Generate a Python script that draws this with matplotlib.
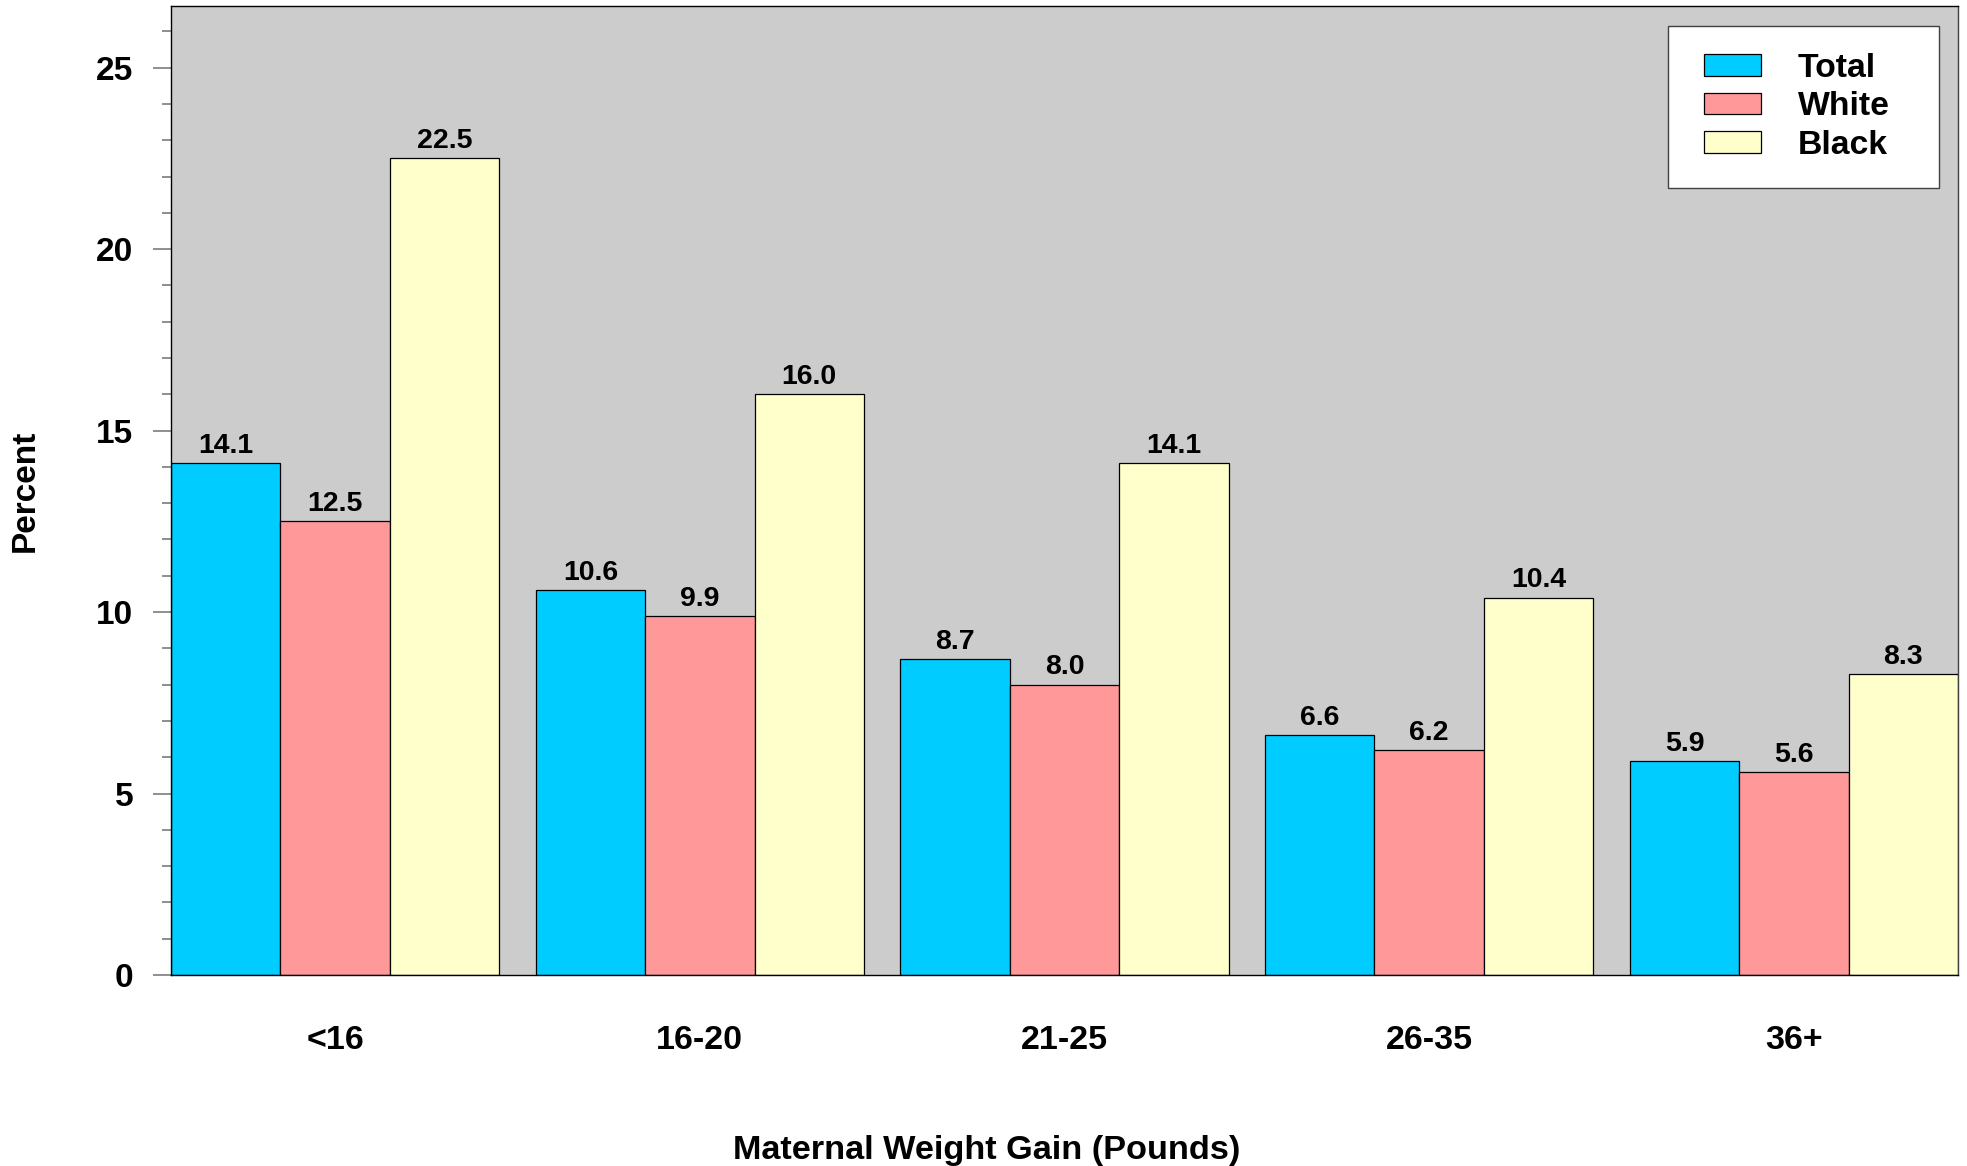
import matplotlib
matplotlib.use("Agg")
import matplotlib.pyplot as plt
import numpy as np
from matplotlib.ticker import MultipleLocator
from matplotlib.container import BarContainer
from matplotlib import legend_handler

categories = ["<16", "16-20", "21-25", "26-35", "36+"]
series_names = ["Total", "White", "Black"]
total = [14.1, 10.6, 8.7, 6.6, 5.9]
white = [12.5, 9.9, 8.0, 6.2, 5.6]
black = [22.5, 16.0, 14.1, 10.4, 8.3]
colors = ["#00CCFF", "#FF9999", "#FFFFCC"]

plt.rcParams['font.family'] = ['Liberation Sans', 'DejaVu Sans']
plt.rcParams['font.weight'] = 'bold'

W, H = 1967, 1166
fig = plt.figure(figsize=(W / 100, H / 100), dpi=100)
left, right, top, bottom = 171, 1958, 6, 975
ax = fig.add_axes([left / W, 1 - bottom / H, (right - left) / W, (bottom - top) / H])
ax.set_facecolor("#CCCCCC")

x = np.arange(len(categories))
width = 0.3
for i, (name, vals) in enumerate(zip(series_names, [total, white, black])):
    bars = ax.bar(x + (i - 1) * width, vals, width, color=colors[i], edgecolor="black",
                  linewidth=0.9, label=name, zorder=2)
    for b, v in zip(bars, vals):
        ax.annotate(f"{v:.1f}", (b.get_x() + b.get_width() / 2, v), xytext=(0, 3),
                    textcoords="offset points", ha="center", va="bottom",
                    fontsize=20.5, fontweight="bold")

ax.set_xlim(-0.45, len(categories) - 0.55)
ax.set_ylim(0, 26.7)
ax.yaxis.set_major_locator(MultipleLocator(5))
ax.yaxis.set_minor_locator(MultipleLocator(1))
ax.set_xticks(x)
ax.set_xticklabels(categories, fontsize=24.5, fontweight="bold")
ax.tick_params(axis="x", length=0, pad=36)
ax.tick_params(axis="y", which="major", length=13, width=1.1, color="#707070",
               labelsize=24, pad=14)
ax.tick_params(axis="y", which="minor", length=6.5, width=1.1, color="#707070")
for lab in ax.get_yticklabels():
    lab.set_fontweight("bold")

for s in ["left", "bottom", "top"]:
    ax.spines[s].set_color("black")
    ax.spines[s].set_linewidth(1.0)
ax.spines["right"].set_color("#404040")
ax.spines["right"].set_linewidth(1.0)

ax.set_xlabel("Maternal Weight Gain (Pounds)", fontsize=24.7, fontweight="bold", va="center")
ax.xaxis.set_label_coords((987 - left) / (right - left), -(1150 - bottom) / (bottom - top))
ax.set_ylabel("Percent", fontsize=24, fontweight="bold", va="center")
ax.yaxis.set_label_coords(-(left - 25) / (right - left), 0.5)

aw, ah = right - left, bottom - top
hm = {BarContainer: legend_handler.HandlerPatch(
    xpad=0.27, update_func=legend_handler.update_from_first_child)}
leg = ax.legend(loc="upper left",
                bbox_to_anchor=((1668 - left) / aw, 1 - (26 - top) / ah, 271 / aw, 0),
                mode="expand", handler_map=hm,
                borderaxespad=0, fancybox=False, framealpha=1, edgecolor="#404040",
                prop={"size": 24.3, "weight": "bold"}, handlelength=1.95, handleheight=0.62,
                handletextpad=1.1, labelspacing=0.22, borderpad=0.8)
leg.get_frame().set_linewidth(1.0)

fig.savefig("out.png", dpi=100)
